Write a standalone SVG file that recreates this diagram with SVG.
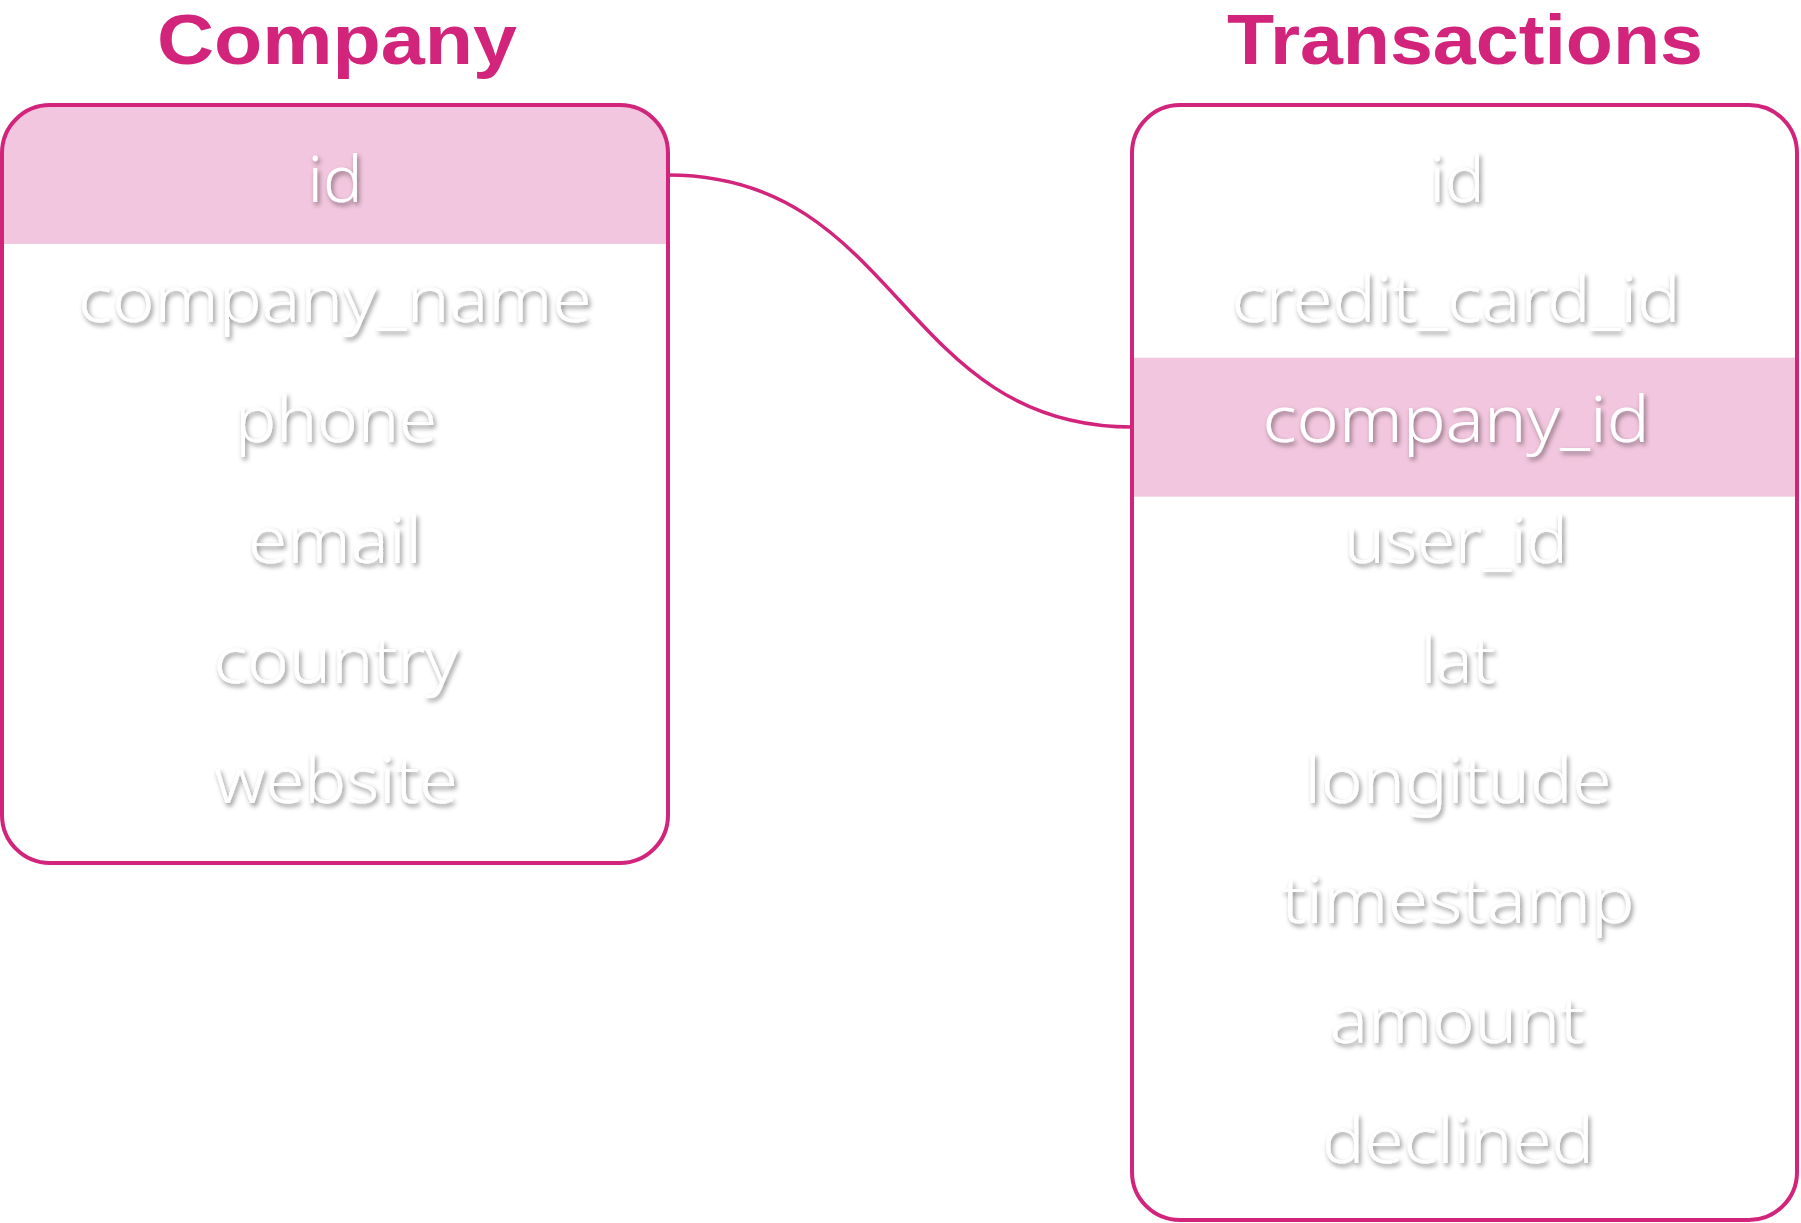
<svg xmlns="http://www.w3.org/2000/svg" width="1801" height="1223" viewBox="0 0 1801 1223">
<style>
.title{font-family:"Liberation Sans","Noto Sans",sans-serif;font-weight:700;font-size:70px;fill:#d2247b;text-anchor:middle}
.field{font-family:"Noto Sans","Liberation Sans",sans-serif;font-weight:300;font-size:64px;fill:#ffffff;text-anchor:middle;filter:url(#sh)}
.box{fill:none;stroke:#d2247b;stroke-width:4}
.band{fill:#f2c6de}
.conn{fill:none;stroke:#d2247b;stroke-width:3.5}
</style>
<defs>
<filter id="sh" x="-10%" y="-30%" width="120%" height="160%">
<feDropShadow dx="2" dy="3" stdDeviation="2.5" flood-color="#000" flood-opacity="0.45"/>
</filter>
<clipPath id="cc"><rect x="2" y="105" width="666" height="758" rx="48"/></clipPath>
<clipPath id="ct"><rect x="1132" y="105" width="665" height="1115" rx="48"/></clipPath>
</defs>
<rect width="1801" height="1223" fill="#ffffff"/>
<g id="connectors">
<path class="conn" d="M668,175 C900,175 900,427 1132,427"/>
</g>
<g id="company">
<rect class="band" x="2" y="105" width="666" height="139" clip-path="url(#cc)"/>
<rect class="box" x="2" y="105" width="666" height="758" rx="48"/>
<text class="title" x="337" y="64" textLength="360" lengthAdjust="spacingAndGlyphs">Company</text>
<text class="field" x="335" y="202" textLength="55" lengthAdjust="spacingAndGlyphs">id</text>
<text class="field" x="335" y="322" textLength="514" lengthAdjust="spacingAndGlyphs">company_name</text>
<text class="field" x="336" y="442" textLength="202" lengthAdjust="spacingAndGlyphs">phone</text>
<text class="field" x="335" y="563" textLength="174" lengthAdjust="spacingAndGlyphs">email</text>
<text class="field" x="336" y="683" textLength="245" lengthAdjust="spacingAndGlyphs">country</text>
<text class="field" x="336" y="803" textLength="244" lengthAdjust="spacingAndGlyphs">website</text>
</g>
<g id="transactions">
<rect class="band" x="1132" y="357.7" width="665" height="139" clip-path="url(#ct)"/>
<rect class="box" x="1132" y="105" width="665" height="1115" rx="48"/>
<text class="title" x="1465" y="64" textLength="476" lengthAdjust="spacingAndGlyphs">Transactions</text>
<text class="field" x="1457" y="202" textLength="55" lengthAdjust="spacingAndGlyphs">id</text>
<text class="field" x="1456" y="322" textLength="449" lengthAdjust="spacingAndGlyphs">credit_card_id</text>
<text class="field" x="1456" y="442" textLength="387" lengthAdjust="spacingAndGlyphs">company_id</text>
<text class="field" x="1456" y="563" textLength="224" lengthAdjust="spacingAndGlyphs">user_id</text>
<text class="field" x="1458" y="683" textLength="75" lengthAdjust="spacingAndGlyphs">lat</text>
<text class="field" x="1458" y="803" textLength="307" lengthAdjust="spacingAndGlyphs">longitude</text>
<text class="field" x="1458" y="923" textLength="353" lengthAdjust="spacingAndGlyphs">timestamp</text>
<text class="field" x="1457" y="1043" textLength="255" lengthAdjust="spacingAndGlyphs">amount</text>
<text class="field" x="1458" y="1163" textLength="272" lengthAdjust="spacingAndGlyphs">declined</text>
</g>
</svg>
